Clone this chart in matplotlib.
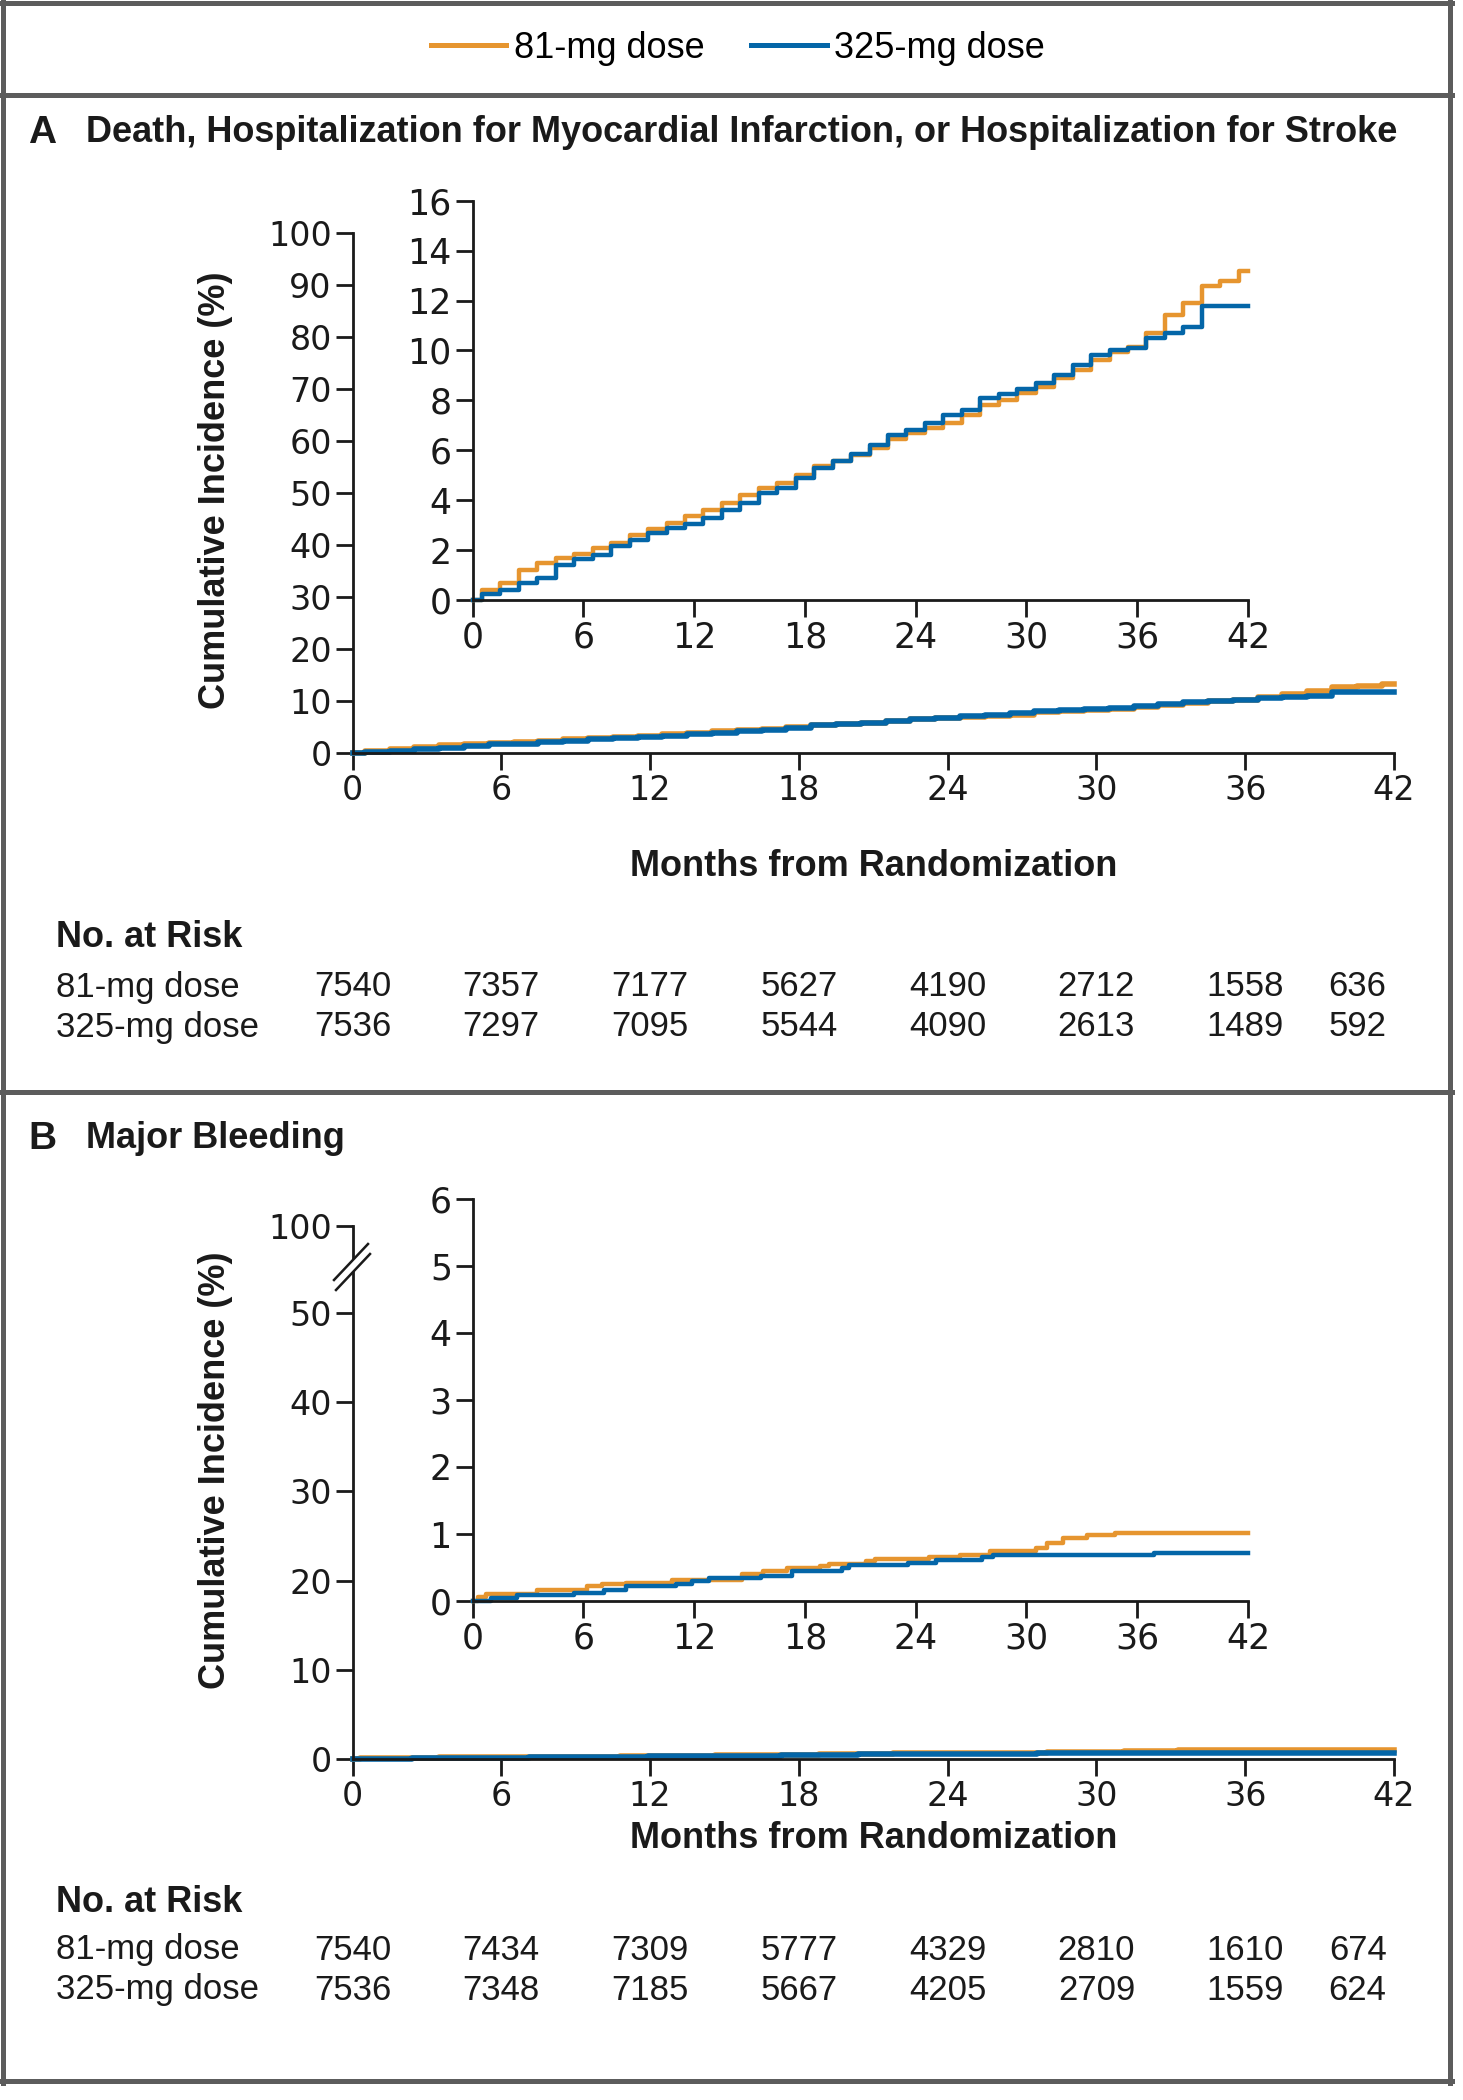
import numpy as np
import matplotlib
matplotlib.use('Agg')
import matplotlib.pyplot as plt
from matplotlib.lines import Line2D
from matplotlib.patches import Polygon
from matplotlib.transforms import blended_transform_factory

W, H = 1463, 2100

ORANGE = '#E6952F'
BLUE = '#0466A8'
GRAY = '#5C5C5C'
INK = '#1a1a1a'
NARROW = ['Liberation Sans Narrow', 'DejaVu Sans']
SANS = ['Liberation Sans', 'DejaVu Sans']

# ---- data ----
months = np.arange(0, 43)
# panel A, cumulative incidence (%) at each month
a_81 = [0, 0.4, 0.7, 1.2, 1.5, 1.7, 1.85, 2.1, 2.3, 2.6, 2.85, 3.1, 3.35, 3.6,
        3.9, 4.2, 4.5, 4.7, 5.0, 5.35, 5.55, 5.8, 6.1, 6.45, 6.7, 6.9, 7.1,
        7.4, 7.8, 8.0, 8.3, 8.55, 8.9, 9.2, 9.6, 9.95, 10.15, 10.7, 11.4,
        11.9, 12.6, 12.8, 13.2]
a_325 = [0, 0.25, 0.4, 0.7, 0.9, 1.4, 1.65, 1.8, 2.15, 2.4, 2.7, 2.9, 3.05,
         3.3, 3.6, 3.9, 4.3, 4.5, 4.9, 5.3, 5.55, 5.85, 6.2, 6.6, 6.8, 7.1,
         7.4, 7.6, 8.1, 8.25, 8.45, 8.7, 9.0, 9.4, 9.8, 10.0, 10.1, 10.5,
         10.7, 10.95, 11.8, 11.8, 11.8]

# panel B, step times (months) and levels (%)
b_81_t = [0, 0.3, 0.7, 3.5, 6.2, 7.0, 8.3, 10.8, 14.6, 15.7, 17.0, 18.8, 19.3,
          21.3, 21.8, 24.7, 26.4, 28.0, 30.5, 31.1, 32.0, 33.3, 34.8, 42]
b_81 = [0, 0.06, 0.1, 0.17, 0.22, 0.25, 0.27, 0.31, 0.4, 0.45, 0.5, 0.52, 0.55,
        0.6, 0.62, 0.66, 0.69, 0.74, 0.79, 0.87, 0.94, 0.98, 1.01, 1.01]
b_325_t = [0, 1.0, 2.4, 5.5, 7.1, 8.3, 11.0, 11.9, 12.8, 15.6, 17.3, 20.0, 20.4,
           23.6, 25.1, 27.6, 28.2, 36.9, 42]
b_325 = [0, 0.05, 0.09, 0.12, 0.17, 0.22, 0.26, 0.3, 0.35, 0.37, 0.45, 0.5,
         0.53, 0.57, 0.61, 0.65, 0.69, 0.72, 0.72]

x_ticks = [0, 6, 12, 18, 24, 30, 36, 42]
risk_a_81 = [7540, 7357, 7177, 5627, 4190, 2712, 1558, 636]
risk_a_325 = [7536, 7297, 7095, 5544, 4090, 2613, 1489, 592]
risk_b_81 = [7540, 7434, 7309, 5777, 4329, 2810, 1610, 674]
risk_b_325 = [7536, 7348, 7185, 5667, 4205, 2709, 1559, 624]

groups = ['81-mg dose', '325-mg dose']
title_a = 'Death, Hospitalization for Myocardial Infarction, or Hospitalization for Stroke'
title_b = 'Major Bleeding'
ylab = 'Cumulative Incidence (%)'
xlab = 'Months from Randomization'


def fx(px):
    return px / W


def fy(py):
    return 1 - py / H


def box(x0, x1, ybot, ytop):
    return [fx(x0), fy(ybot), (x1 - x0) / W, (ybot - ytop) / H]


def style(ax, size):
    ax.spines['top'].set_visible(False)
    ax.spines['right'].set_visible(False)
    for s in ('left', 'bottom'):
        ax.spines[s].set_linewidth(2)
        ax.spines[s].set_color(INK)
    ax.tick_params(direction='out', length=12, width=2, labelsize=size,
                   pad=3, colors=INK)
    ax.set_facecolor('none')


plt.rcParams['font.family'] = NARROW
fig = plt.figure(figsize=(W / 100, H / 100), dpi=100)

MAIN_L, MAIN_R = 352.5, 1394
INS_L, INS_R = 472.7, 1248
LW_MAIN, LW_INS = 4.0, 3.2

# ---------------- panel A ----------------
axA = fig.add_axes(box(MAIN_L, MAIN_R, 753, 233))
axA.step(months, a_81, where='mid', color=ORANGE, lw=LW_MAIN, clip_on=False)
axA.step(months, a_325, where='mid', color=BLUE, lw=LW_MAIN, clip_on=False)
axA.set_xlim(0, 42)
axA.set_ylim(0, 100)
axA.set_xticks(x_ticks)
axA.set_yticks(range(0, 101, 10))
style(axA, 24)

insA = fig.add_axes(box(INS_L, INS_R, 600, 200.7))
insA.step(months, a_81, where='mid', color=ORANGE, lw=LW_INS, clip_on=False)
insA.step(months, a_325, where='mid', color=BLUE, lw=LW_INS, clip_on=False)
insA.set_xlim(0, 42)
insA.set_ylim(0, 16)
insA.set_xticks(x_ticks)
insA.set_yticks(range(0, 17, 2))
style(insA, 25)

# ---------------- panel B ----------------
k = 0.195


def fwd(v):
    v = np.asarray(v, dtype=float)
    return np.where(v <= 50, v, 50 + (v - 50) * k)


def inv(u):
    u = np.asarray(u, dtype=float)
    return np.where(u <= 50, u, 50 + (u - 50) / k)


axB = fig.add_axes(box(MAIN_L, MAIN_R, 1759, 1226))
axB.set_yscale('function', functions=(fwd, inv))
axB.step(b_81_t, b_81, where='post', color=ORANGE, lw=LW_MAIN, clip_on=False)
axB.step(b_325_t, b_325, where='post', color=BLUE, lw=LW_MAIN, clip_on=False)
axB.set_xlim(0, 42)
axB.set_ylim(0, 100)
axB.set_xticks(x_ticks)
axB.set_yticks([0, 10, 20, 30, 40, 50, 100])
axB.set_yticklabels(['0', '10', '20', '30', '40', '50', '100'])
style(axB, 24)


# axis break marks on the left spine
def bx(px):
    return (px - MAIN_L) / (MAIN_R - MAIN_L)


def by(py):
    return (1759 - py) / (1759 - 1226)


gap = Polygon([(bx(334), by(1280)), (bx(368), by(1244)),
               (bx(370), by(1254)), (bx(336), by(1290))],
              closed=True, transform=axB.transAxes, facecolor='white',
              edgecolor='none', clip_on=False, zorder=5)
axB.add_patch(gap)
for off in (0, 10):
    axB.plot([bx(334 + off * 0.2), bx(368 + off * 0.2)],
             [by(1280 + off), by(1244 + off)], transform=axB.transAxes,
             color=INK, lw=1.8, clip_on=False, zorder=6)

insB = fig.add_axes(box(INS_L, INS_R, 1601, 1199))
insB.step(b_81_t, b_81, where='post', color=ORANGE, lw=LW_INS, clip_on=False)
insB.step(b_325_t, b_325, where='post', color=BLUE, lw=LW_INS, clip_on=False)
insB.set_xlim(0, 42)
insB.set_ylim(0, 6)
insB.set_xticks(x_ticks)
insB.set_yticks(range(0, 7))
style(insB, 25)

# ---------------- text ----------------
bold = dict(family=SANS, weight='bold', color=INK)
reg = dict(family=SANS, color=INK)

for ax, letter, title, y_title, y_ylab, y_xlab, y_nar, rows in [
        (axA, 'A', title_a, 133, 490, 866, 937,
         [(987, risk_a_81), (1027, risk_a_325)]),
        (axB, 'B', title_b, 1139, 1470, 1838, 1903,
         [(1950, risk_b_81), (1990, risk_b_325)])]:
    fig.text(fx(28), fy(y_title), letter, size=28, va='center', **bold)
    fig.text(fx(86), fy(y_title), title, size=26, va='center', **bold)
    fig.text(fx(216), fy(y_ylab), ylab, size=26, rotation=90,
             ha='center', va='center', **bold)
    fig.text(fx((MAIN_L + MAIN_R) / 2), fy(y_xlab), xlab, size=26,
             ha='center', va='center', **bold)
    fig.text(fx(56), fy(y_nar), 'No. at Risk', size=26, va='center', **bold)
    tr = blended_transform_factory(ax.transData, fig.transFigure)
    for name, (yy, vals) in zip(groups, rows):
        fig.text(fx(56), fy(yy), name, size=25, va='center', **reg)
        for t, v in zip(x_ticks, vals):
            if t == 42:
                ax.text(41.7, fy(yy), str(v), transform=tr, size=25,
                        ha='right', va='center', clip_on=False, **reg)
            else:
                ax.text(t, fy(yy), str(v), transform=tr, size=25,
                        ha='center', va='center', clip_on=False, **reg)

# legend at the top
handles = [Line2D([], [], color=ORANGE, lw=3.6),
           Line2D([], [], color=BLUE, lw=3.6)]
fig.legend(handles, groups, loc='center left', bbox_to_anchor=(fx(398), fy(48)),
           ncol=2, frameon=False, prop={'family': SANS, 'size': 26},
           handlelength=2.1, handletextpad=0.2, columnspacing=1.3)

# frame around the figure and the panel separators
for xs, ys in [((2.5, 2.5), (0, 2083)), ((1450, 1450), (0, 2083)),
               ((0, 1452), (2.5, 2.5)), ((0, 1452), (94.5, 94.5)),
               ((0, 1452), (1091.5, 1091.5)), ((0, 1452), (2081, 2081))]:
    fig.add_artist(Line2D([fx(x) for x in xs], [fy(y) for y in ys],
                          transform=fig.transFigure, color=GRAY, lw=3.6))

fig.savefig('out.png', dpi=100, facecolor='white')
